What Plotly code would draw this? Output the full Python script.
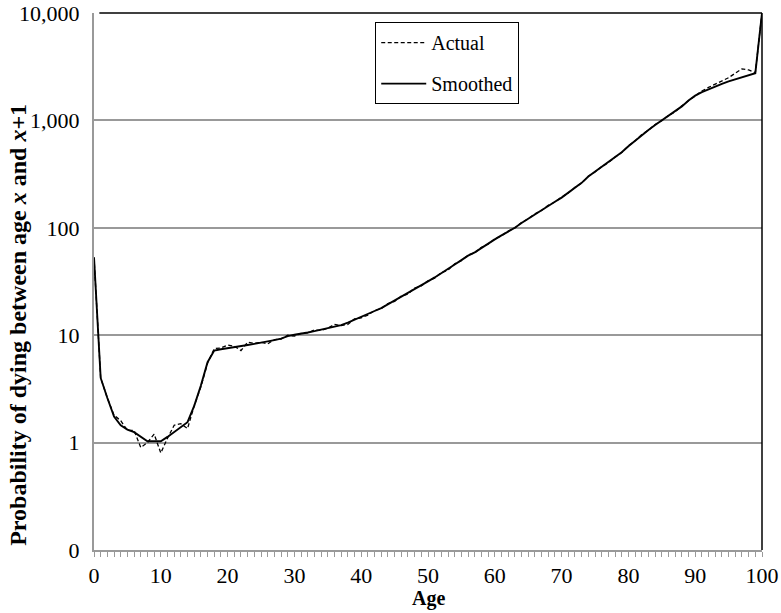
import plotly.graph_objects as go

ages = list(range(0, 101))

actual = [
    53, 4.0, 2.6, 1.8, 1.6, 1.3, 1.3, 0.9, 1.0, 1.2,
    0.8, 1.1, 1.45, 1.5, 1.35, 2.2, 3.3, 5.5, 7.5, 7.6,
    8.1, 7.9, 7.2, 8.6, 8.4, 8.6, 8.3, 9.1, 9.2, 10.0,
    9.8, 10.4, 10.5, 11.2, 11.1, 11.6, 12.6, 12.3, 12.6, 14.2,
    14.5, 15.4, 17.0, 17.6, 19.7, 20.6, 23.1, 24.2, 27.5, 28.8,
    32.1, 34.0, 38.2, 40.3, 46.2, 49.5, 55.8, 58.4, 66.0, 70.5,
    79.0, 84.5, 93.0, 99.5, 112, 121, 135, 145, 162, 174,
    193, 211, 238, 261, 302, 331, 370, 403, 455, 502,
    580, 645, 740, 810, 915, 995, 1110, 1200, 1370, 1520,
    1720, 1880, 2030, 2180, 2350, 2500, 2750, 3020, 2950, 2780,
    10000,
]

smoothed = [
    53, 4.0, 2.6, 1.75, 1.45, 1.32, 1.25, 1.14, 1.03, 1.03,
    1.03, 1.13, 1.25, 1.38, 1.55, 2.2, 3.4, 5.6, 7.2, 7.4,
    7.6, 7.8, 7.9, 8.1, 8.3, 8.5, 8.7, 9.0, 9.3, 9.8,
    10.1, 10.3, 10.6, 10.9, 11.3, 11.7, 12.0, 12.4, 13.1, 13.9,
    14.7, 15.7, 16.8, 17.9, 19.4, 20.9, 22.6, 24.5, 27.0, 29.3,
    31.7, 34.5, 37.6, 41.0, 45.5, 50, 55, 59, 65, 71,
    78, 85, 92, 100, 111, 122, 133, 146, 160, 175,
    191, 212, 236, 262, 300, 333, 367, 405, 450, 505,
    575, 650, 730, 815, 905, 1000, 1100, 1210, 1350, 1530,
    1700, 1830, 1950, 2070, 2190, 2310, 2420, 2530, 2640, 2750,
    10000,
]

y_tickvals = [0.1, 1, 10, 100, 1000, 10000]
y_ticktext = ["0", "1", "10", "100", "1,000", "10,000"]
x_tickvals = list(range(0, 101, 10))

FONT = "Liberation Serif, Times New Roman, serif"

fig = go.Figure()
fig.add_trace(go.Scatter(
    x=ages, y=actual, mode="lines", name="Actual", legendgroup="a",
    line=dict(color="black", width=1.3, dash="4px,2.5px"),
))
fig.add_trace(go.Scatter(
    x=ages, y=smoothed, mode="lines", name="Smoothed", legendgroup="s",
    line=dict(color="black", width=1.9),
))

fig.update_layout(
    width=781, height=613,
    margin=dict(l=94, r=19, t=13, b=63),
    paper_bgcolor="white", plot_bgcolor="white",
    font=dict(family=FONT, size=20, color="black"),
    showlegend=True,
    legend=dict(
        x=0.421, y=0.983, xanchor="left", yanchor="top",
        bordercolor="black", borderwidth=1, bgcolor="white",
        font=dict(family=FONT, size=20),
        tracegroupgap=12, itemwidth=45,
    ),
    shapes=[
        dict(type="line", xref="paper", yref="paper", x0=0.008, x1=1, y0=1, y1=1,
             line=dict(color="black", width=1.5)),
        dict(type="line", xref="paper", yref="paper", x0=1, x1=1, y0=0, y1=1,
             line=dict(color="black", width=1.5)),
    ],
    annotations=[
        dict(text="<b>Probability of dying between age <i>x</i> and <i>x</i>+1</b>",
             xref="paper", yref="paper", x=-0.114, y=0.419,
             xanchor="center", yanchor="middle", textangle=-90, showarrow=False,
             font=dict(family=FONT, size=24)),
        dict(text="<b>Age</b>", xref="paper", yref="paper", x=0.5, y=-0.091,
             xanchor="center", yanchor="middle", showarrow=False,
             font=dict(family=FONT, size=20)),
    ],
)

fig.update_xaxes(
    range=[0, 100], tickvals=x_tickvals, automargin=False,
    showline=True, linecolor="#999999", linewidth=2,
    showgrid=False, zeroline=False,
    ticks="outside", ticklen=5, tickcolor="#999999", tickwidth=1,
    minor=dict(dtick=1, tick0=0, ticks="outside", ticklen=5, tickcolor="#999999", tickwidth=1, showgrid=False),
    tickfont=dict(family=FONT, size=22),
)
fig.update_yaxes(
    type="log", range=[-1, 4], automargin=False,
    tickvals=y_tickvals, ticktext=y_ticktext,
    showline=True, linecolor="#999999", linewidth=2,
    showgrid=True, gridcolor="#999999", gridwidth=2,
    zeroline=False, ticks="", ticklen=0, ticklabelstandoff=8,
    tickfont=dict(family=FONT, size=22),
)

fig.write_html("out.html", config={"displayModeBar": False},
               post_script="document.body.style.margin='0px';")
